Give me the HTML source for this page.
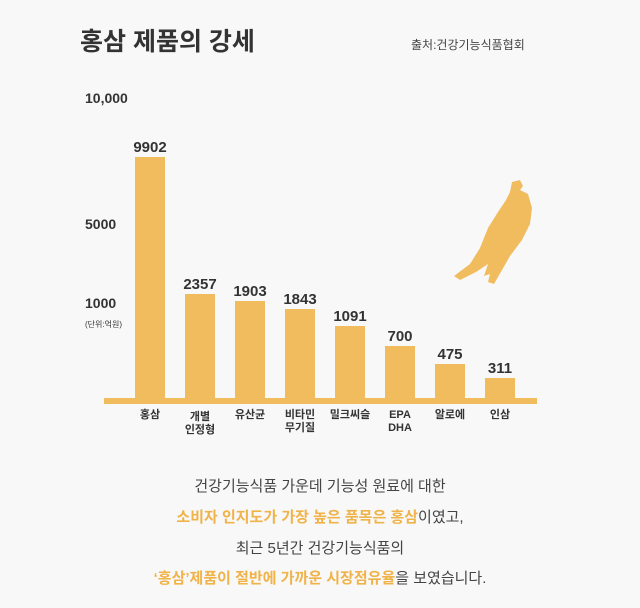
<!DOCTYPE html>
<html><head><meta charset="utf-8"><style>
body{margin:0;width:640px;height:608px;background:#f8f8f8;font-family:"Liberation Sans","Noto Sans CJK KR",sans-serif;position:relative;overflow:hidden;color:#333}
div{position:absolute}
.bar{background:#f0bc5e;width:30px}
.v{font-size:15px;font-weight:bold;color:#333;width:60px;text-align:center}
.c{font-size:11px;color:#333;width:60px;text-align:center;line-height:13px;font-weight:bold}
.y{font-size:14px;font-weight:bold;color:#333;left:85px}
.t{width:640px;text-align:center;font-size:15px;color:#444;left:0}
.o{color:#f0b34a;font-weight:bold}
</style></head><body>
<div style="left:80px;top:22px;font-size:25px;font-weight:bold;color:#333">홍삼 제품의 강세</div>
<div style="left:411px;top:36px;font-size:12px;color:#444">출처:건강기능식품협회</div>
<div class="y" style="top:90px">10,000</div>
<div class="y" style="top:216px">5000</div>
<div class="y" style="top:295px">1000</div>
<div style="left:85px;top:319px;font-size:8px;color:#333">(단위:억원)</div>
<div style="left:104px;top:398px;width:433px;height:6px;background:#f0bc5e"></div>
<div class="bar" style="left:135px;top:157px;height:242px"></div>
<div class="bar" style="left:185px;top:294px;height:105px"></div>
<div class="bar" style="left:235px;top:301px;height:98px"></div>
<div class="bar" style="left:285px;top:309px;height:90px"></div>
<div class="bar" style="left:335px;top:326px;height:73px"></div>
<div class="bar" style="left:385px;top:346px;height:53px"></div>
<div class="bar" style="left:435px;top:364px;height:35px"></div>
<div class="bar" style="left:485px;top:378px;height:21px"></div>
<div class="v" style="left:120px;top:139px">9902</div>
<div class="v" style="left:170px;top:276px">2357</div>
<div class="v" style="left:220px;top:283px">1903</div>
<div class="v" style="left:270px;top:291px">1843</div>
<div class="v" style="left:320px;top:308px">1091</div>
<div class="v" style="left:370px;top:328px">700</div>
<div class="v" style="left:420px;top:346px">475</div>
<div class="v" style="left:470px;top:360px">311</div>
<div class="c" style="left:120px;top:409px">홍삼</div>
<div class="c" style="left:170px;top:411px">개별<br>인정형</div>
<div class="c" style="left:220px;top:409px">유산균</div>
<div class="c" style="left:270px;top:409px">비타민<br>무기질</div>
<div class="c" style="left:320px;top:409px">밀크씨슬</div>
<div class="c" style="left:370px;top:409px">EPA<br>DHA</div>
<div class="c" style="left:420px;top:409px">알로에</div>
<div class="c" style="left:470px;top:409px">인삼</div>
<svg style="position:absolute;left:448px;top:178px" width="90" height="110" viewBox="0 0 90 110">
<path d="M64 4 L72 2 L75 8 L72 12 L80 16 L84 30 L82 46 L74 62 L62 78 L54 92 L46 106 L40 104 L42 96 L36 98 L40 86 L28 94 L12 102 L6 98 L22 86 L32 70 L40 50 L50 34 L58 22 L62 14 Z" fill="#f0bc5e"/>
</svg>
<div class="t" style="top:475px">건강기능식품 가운데 기능성 원료에 대한</div>
<div class="t" style="top:506px"><span class="o">소비자 인지도가 가장 높은 품목은 홍삼</span>이였고,</div>
<div class="t" style="top:537px">최근 5년간 건강기능식품의</div>
<div class="t" style="top:567px"><span class="o">‘홍삼’제품이 절반에 가까운 시장점유율</span>을 보였습니다.</div>
</body></html>
